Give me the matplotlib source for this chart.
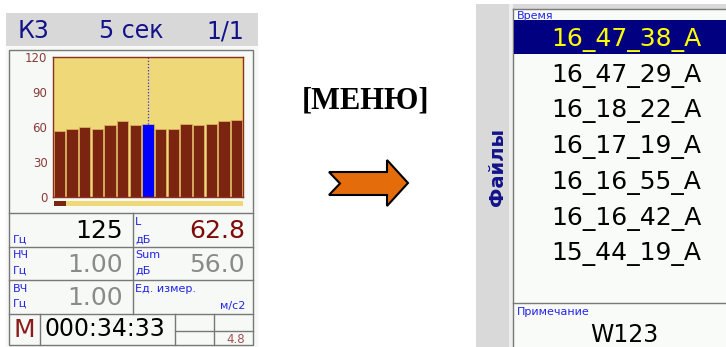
import matplotlib
matplotlib.use("Agg")
import matplotlib.pyplot as plt
from matplotlib.patches import Rectangle, Polygon

# spectrum bars (dB), 15 bands, selected band highlighted
band_levels = [57, 58, 60, 58, 62, 65, 62, 63, 58, 58, 63, 62, 63, 65, 66]
selected_band = 7
y_ticks = [0, 30, 60, 90, 120]
progress = 0.065

header = ["К3", "5 сек", "1/1"]
freq_value = "125"
level_value = "62.8"
low_value = "1.00"
sum_value = "56.0"
high_value = "1.00"
timer = "000:34:33"
battery = "4.8"

files = ["16_47_38_A", "16_47_29_A", "16_18_22_A", "16_17_19_A",
         "16_16_55_A", "16_16_42_A", "15_44_19_A"]
selected_file = 0
note = "W123"

NAVY = "#12128a"
BLUE = "#2323e6"
BROWN = "#7b2410"
SAND = "#efd878"
LINE = "#787878"
PANEL = "#f6f9f6"

W, H = 726, 347
fig = plt.figure(figsize=(W / 100, H / 100), dpi=100)
fig.patch.set_facecolor("white")

bg = fig.add_axes([0, 0, 1, 1])
bg.set_xlim(0, W)
bg.set_ylim(H, 0)
bg.axis("off")


def box(x0, y0, x1, y1, fc="none", ec="none", lw=1.0, z=1):
    bg.add_patch(Rectangle((x0, y0), x1 - x0, y1 - y0, facecolor=fc,
                           edgecolor=ec, linewidth=lw, zorder=z))


def hline(y, x0, x1):
    bg.plot([x0, x1], [y, y], color=LINE, lw=1, zorder=3)


def vline(x, y0, y1):
    bg.plot([x, x], [y0, y1], color=LINE, lw=1, zorder=3)


# ---------- left device screen ----------
box(6, 13, 258, 347, fc=PANEL)
box(6, 13, 258, 46, fc="#d8d8d8")
bg.text(18, 38, header[0], fontsize=17, color=NAVY, ha="left", va="baseline")
bg.text(131, 38, header[1], fontsize=17, color=NAVY, ha="center", va="baseline")
bg.text(244, 38, header[2], fontsize=17, color=NAVY, ha="right", va="baseline")

box(9, 50, 253, 345, ec=LINE)

# progress strip under the chart
box(54, 201, 243, 206, fc=SAND, z=2)
box(54, 201, 54 + progress * (243 - 54), 206, fc=BROWN, z=3)

# table grid
hline(213, 9, 253)
hline(247, 9, 253)
hline(280, 9, 253)
hline(314, 9, 253)
vline(133, 213, 314)
vline(40, 314, 345)
vline(175, 314, 345)
vline(214, 314, 345)
hline(331, 175, 253)

small = dict(fontsize=8, color=BLUE, va="baseline")
big = dict(fontsize=18, va="baseline", ha="right")

bg.text(13, 243, "Гц", **small)
bg.text(123, 238, freq_value, color="black", **big)
bg.text(135, 225, "L", **small)
bg.text(135, 243, "дБ", **small)
bg.text(245, 238, level_value, color="#7f0a0a", **big)

bg.text(13, 258, "НЧ", **small)
bg.text(13, 274, "Гц", **small)
bg.text(123, 272, low_value, color="#8a8a8a", **big)
bg.text(135, 258, "Sum", **small)
bg.text(135, 274, "дБ", **small)
bg.text(245, 272, sum_value, color="#8a8a8a", **big)

bg.text(13, 292, "ВЧ", **small)
bg.text(13, 307, "Гц", **small)
bg.text(123, 305, high_value, color="#8a8a8a", **big)
bg.text(135, 292, "Ед. измер.", **small)
bg.text(245, 309, "м/с2", ha="right", **small)

bg.text(24, 337, "M", fontsize=18, color="#8b1a1a", ha="center", va="baseline")
bg.text(45, 336, timer, fontsize=17, color="black", ha="left", va="baseline")
bg.text(245, 343, battery, fontsize=8.5, color="#a05050", ha="right", va="baseline")

# spectrum chart
ax = fig.add_axes([53 / W, 1 - 197 / H, 190 / W, 140 / H])
ax.set_facecolor(SAND)
colors = [BROWN] * len(band_levels)
colors[selected_band] = "#0000ff"
ax.bar(range(len(band_levels)), band_levels, width=0.9, color=colors,
       edgecolor="#d9b060", linewidth=0.6)
ax.vlines(selected_band, band_levels[selected_band], 120, colors="#3030ff",
          linestyles=(0, (1, 1.5)), linewidth=0.9)
ax.set_xlim(-0.5, len(band_levels) - 0.5)
ax.set_ylim(0, 120)
ax.set_xticks([])
ax.set_yticks(y_ticks)
ax.set_yticklabels([str(t) for t in y_ticks])
ax.tick_params(axis="y", length=0, pad=4, labelsize=8.5, labelcolor="#8b3a3a")
for s in ax.spines.values():
    s.set_color("#8b2f1f")
    s.set_linewidth(1)

# ---------- menu label and arrow ----------
bg.text(366, 108, "[МЕНЮ]", fontsize=22, fontweight="bold",
        family="Liberation Serif", ha="center", va="baseline", color="black")
arrow = [(329, 172), (387, 172), (387, 160), (408, 183), (387, 206),
         (387, 195), (329, 195), (340, 183.5)]
bg.add_patch(Polygon(arrow, closed=True, facecolor="#e46c0a",
                     edgecolor="black", linewidth=1.5, zorder=3))

# ---------- right file list screen ----------
box(476, 4, 726, 347, fc="#d9d9d9")
box(509, 4, 513, 347, fc="#eeeeee")
box(513, 9, 726, 347, fc="#f8fbf8", z=2)
vline(513, 9, 347)
hline(9, 513, 726)
bg.text(497, 167, "Файлы", fontsize=14, fontweight="bold", color=NAVY,
        rotation=90, ha="center", va="center")

bg.text(517, 19, "Время", fontsize=8, color=BLUE, va="baseline", zorder=4)
box(514, 20, 726, 54, fc="#000080", z=3)
for i, name in enumerate(files):
    c = "#ffff00" if i == selected_file else "black"
    bg.text(626, 46 + 35.7 * i, name, fontsize=18, color=c,
            ha="center", va="baseline", zorder=4)

hline(303, 513, 726)
bg.text(517, 315, "Примечание", fontsize=8, color=BLUE, va="baseline", zorder=4)
bg.text(624, 342, note, fontsize=17, color="black", ha="center",
        va="baseline", zorder=4)

fig.savefig("out.png", dpi=100)
